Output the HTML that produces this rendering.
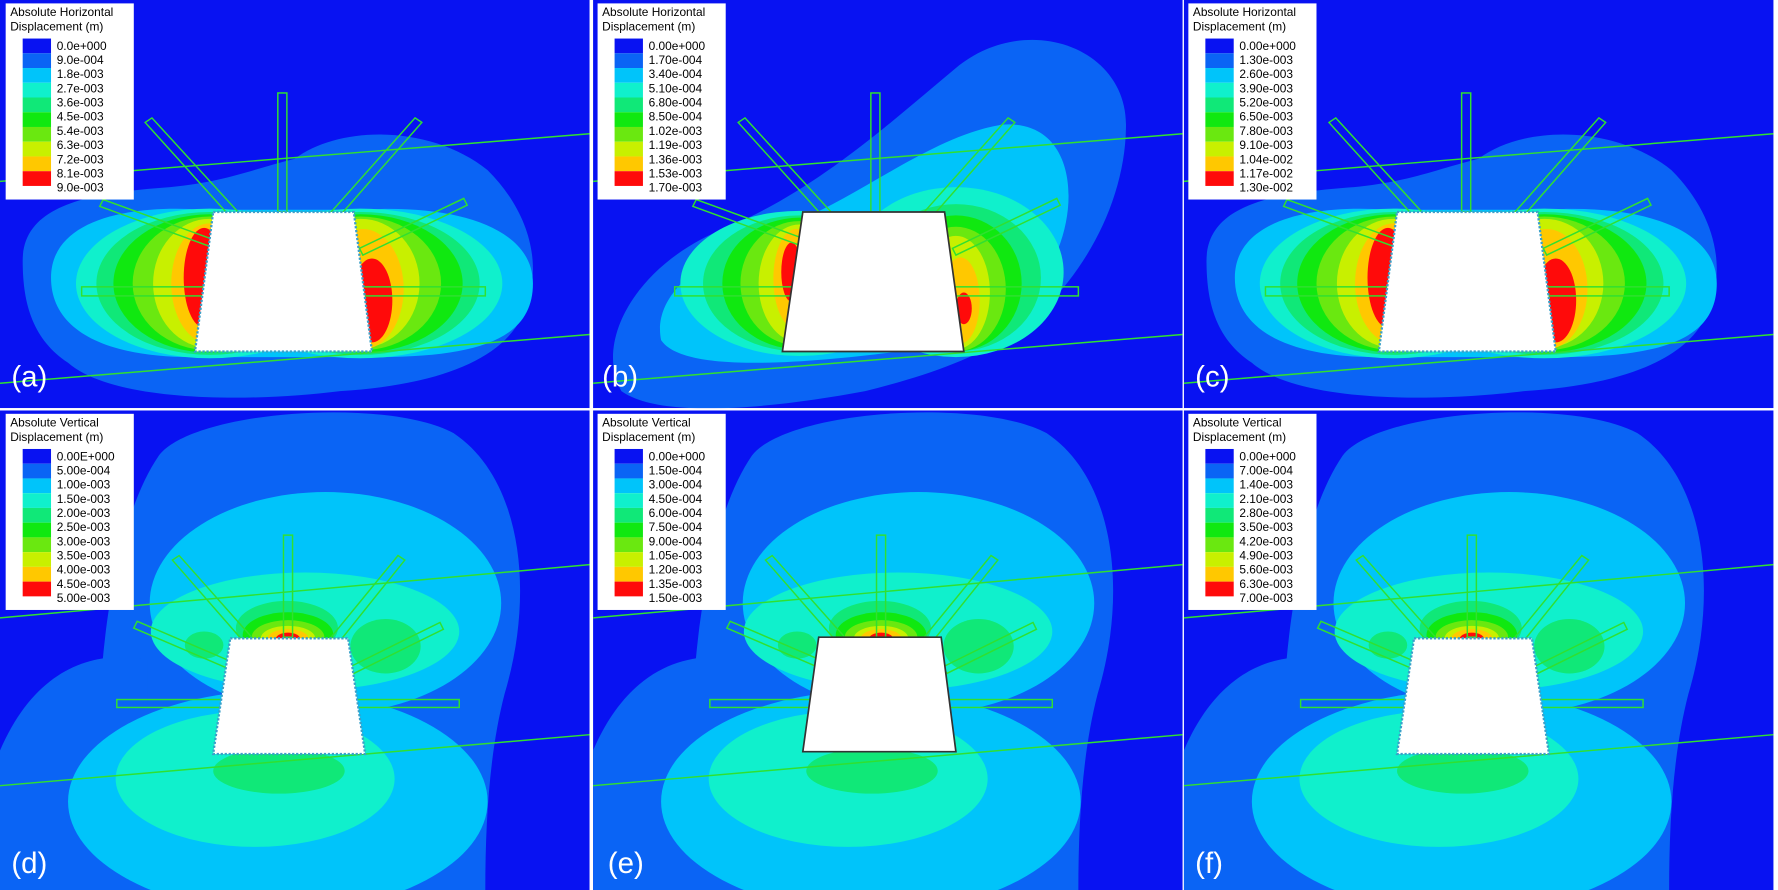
<!DOCTYPE html>
<html><head><meta charset="utf-8"><style>
html,body{margin:0;padding:0;background:#fff;overflow:hidden;width:1778px;height:890px;}
svg{display:block;}
text{font-family:"Liberation Sans",sans-serif;}
</style></head><body>
<svg width="1778" height="890" viewBox="0 0 1568 785" preserveAspectRatio="none" xmlns="http://www.w3.org/2000/svg">
<defs>
<clipPath id="ct"><rect x="0" y="0" width="520" height="360"/></clipPath>
<clipPath id="cb"><rect x="0" y="0" width="520" height="423"/></clipPath>
<g id="topc">
 <rect x="0" y="0" width="520" height="360" fill="#0812f2"/>
 <path d="M20,230 C20,180 80,170 150,165 C200,160 220,150 260,140 C300,110 380,110 430,150 C470,190 480,240 460,280 C440,320 380,340 300,345 C220,355 100,355 60,320 C30,300 20,270 20,230Z" fill="#0a64f5"/>
 <path d="M45,245 C45,195 110,180 180,185 L320,185 C400,180 470,200 470,250 C470,300 420,315 330,315 L170,315 C90,315 45,290 45,245Z" fill="#00c4fa"/>
 <ellipse cx="185" cy="250" rx="118" ry="66" fill="#10f0cc"/><ellipse cx="318" cy="250" rx="125" ry="66" fill="#10f0cc"/>
 <ellipse cx="185" cy="250" rx="100" ry="63" fill="#10e878"/><ellipse cx="318" cy="250" rx="105" ry="63" fill="#10e878"/>
 <ellipse cx="185" cy="250" rx="85" ry="61" fill="#10e810"/><ellipse cx="318" cy="250" rx="90" ry="61" fill="#10e810"/>
 <ellipse cx="185" cy="250" rx="68" ry="59" fill="#6ae810"/><ellipse cx="318" cy="250" rx="71" ry="59" fill="#6ae810"/>
 <ellipse cx="185" cy="250" rx="50" ry="57" fill="#c8f000"/><ellipse cx="318" cy="250" rx="52" ry="57" fill="#c8f000"/>
 <ellipse cx="185" cy="250" rx="34" ry="53" fill="#ffc800"/><ellipse cx="320" cy="255" rx="36" ry="53" fill="#ffc800"/>
 <ellipse cx="180" cy="245" rx="18" ry="44" fill="#ff0a0a"/><ellipse cx="328" cy="265" rx="18" ry="37" fill="#ff0a0a"/>
</g>
<g id="topb">
 <rect x="0" y="0" width="520" height="360" fill="#0812f2"/>
 <path d="M25,345 C0,300 40,230 120,200 C200,165 260,110 320,60 C380,10 470,40 470,110 C470,170 440,230 400,270 C360,310 300,330 240,345 C160,360 60,370 25,345Z" fill="#0a64f5"/>
 <path d="M60,300 C50,250 120,215 180,195 C240,170 300,120 360,110 C420,105 430,170 410,220 C390,270 330,300 270,310 C190,320 80,330 60,300Z" fill="#00c4fa"/>
 <ellipse cx="182" cy="250" rx="105" ry="64" fill="#10f0cc"/><ellipse cx="320" cy="240" rx="95" ry="75" fill="#10f0cc"/>
 <ellipse cx="182" cy="250" rx="85" ry="60" fill="#10e878"/><ellipse cx="320" cy="245" rx="75" ry="65" fill="#10e878"/>
 <ellipse cx="182" cy="250" rx="68" ry="58" fill="#10e810"/><ellipse cx="320" cy="250" rx="58" ry="60" fill="#10e810"/>
 <ellipse cx="182" cy="250" rx="52" ry="55" fill="#6ae810"/><ellipse cx="320" cy="255" rx="44" ry="55" fill="#6ae810"/>
 <ellipse cx="182" cy="250" rx="36" ry="52" fill="#c8f000"/><ellipse cx="320" cy="258" rx="30" ry="50" fill="#c8f000"/>
 <ellipse cx="179" cy="246" rx="20" ry="44" fill="#ffc800"/><ellipse cx="324" cy="265" rx="17" ry="38" fill="#ffc800"/>
 <ellipse cx="175" cy="240" rx="9" ry="26" fill="#ff0a0a"/><ellipse cx="327" cy="272" rx="7" ry="14" fill="#ff0a0a"/>
</g>
<g id="botc">
 <rect x="0" y="0" width="520" height="423" fill="#0812f2"/>
 <path d="M100,423 C75,330 85,120 140,40 C170,0 340,-12 400,20 C460,60 472,160 445,250 C432,300 428,360 428,423Z" fill="#0a64f5"/>
 <path d="M0,300 C30,230 80,210 130,220 L130,423 L0,423Z" fill="#0a64f5"/>
 <ellipse cx="287" cy="170" rx="155" ry="98" fill="#00c4fa"/>
 <ellipse cx="245" cy="345" rx="185" ry="98" fill="#00c4fa"/>
 <ellipse cx="269" cy="195" rx="136" ry="52" fill="#10f0cc"/>
 <ellipse cx="225" cy="325" rx="123" ry="60" fill="#10f0cc"/>
 <ellipse cx="246" cy="318" rx="58" ry="20" fill="#10e878"/>
 <ellipse cx="253" cy="192" rx="45" ry="24" fill="#10e878"/>
 <ellipse cx="340" cy="208" rx="31" ry="24" fill="#10e878"/>
 <ellipse cx="180" cy="207" rx="17" ry="12" fill="#10e878"/>
 <ellipse cx="254" cy="198" rx="40" ry="20" fill="#10e810"/>
 <ellipse cx="254" cy="200" rx="32" ry="15" fill="#6ae810"/>
 <ellipse cx="254" cy="201" rx="24" ry="11" fill="#c8f000"/>
 <ellipse cx="254" cy="201" rx="18" ry="8" fill="#ffc800"/>
 <ellipse cx="254" cy="202" rx="11" ry="6" fill="#ff0a0a"/>
</g>
<g id="topbolts" fill="none" stroke="#30e030" stroke-width="1.3">
 <line x1="0" y1="160" x2="520" y2="118"/>
 <line x1="0" y1="338" x2="520" y2="295"/>
 <rect x="245" y="82" width="8" height="105"/>
 <polygon points="128,108 134,104 210,187 202,190"/>
 <polygon points="366,104 372,108 300,190 292,187"/>
 <polygon points="88,182 91,176 190,212 187,218"/>
 <polygon points="409,175 412,181 320,225 317,219"/>
 <rect x="72" y="253" width="356" height="8"/>
</g>
<g id="botbolts" fill="none" stroke="#30e030" stroke-width="1.3">
 <line x1="0" y1="183" x2="520" y2="136"/>
 <line x1="0" y1="331" x2="520" y2="286"/>
 <rect x="250" y="110" width="8" height="90"/>
 <polygon points="152,132 158,128 222,200 214,203"/>
 <polygon points="351,128 357,132 300,203 292,200"/>
 <polygon points="118,192 121,186 205,222 202,228"/>
 <polygon points="388,187 391,193 312,232 309,226"/>
 <rect x="103" y="255" width="302" height="7"/>
</g>
<g id="boxes">
 <rect x="20" y="34" width="25" height="13" fill="#0812f2"/><rect x="20" y="47" width="25" height="13" fill="#0a64f5"/><rect x="20" y="60" width="25" height="13" fill="#00c4fa"/><rect x="20" y="73" width="25" height="13" fill="#10f0cc"/><rect x="20" y="86" width="25" height="13" fill="#10e878"/><rect x="20" y="99" width="25" height="13" fill="#10e810"/><rect x="20" y="112" width="25" height="13" fill="#6ae810"/><rect x="20" y="125" width="25" height="13" fill="#c8f000"/><rect x="20" y="138" width="25" height="13" fill="#ffc800"/><rect x="20" y="151" width="25" height="13" fill="#ff0a0a"/>
</g>
</defs>

<g clip-path="url(#ct)">
 <use href="#topc"/><use href="#topbolts"/>
 <polygon points="188,187 312,187 328,310 172,310" fill="#fff" stroke="#3aa0c8" stroke-width="2" stroke-dasharray="2,1.5"/>
</g>
<g transform="translate(523,0)" clip-path="url(#ct)">
 <use href="#topb"/><use href="#topbolts"/>
 <polygon points="185,187 310,187 327,310 167,310" fill="#fff" stroke="#333" stroke-width="1.5"/>
</g>
<g transform="translate(1044,0)" clip-path="url(#ct)">
 <use href="#topc"/><use href="#topbolts"/>
 <polygon points="188,187 312,187 328,310 172,310" fill="#fff" stroke="#3aa0c8" stroke-width="2" stroke-dasharray="2,1.5"/>
</g>
<g transform="translate(0,362)" clip-path="url(#cb)">
 <use href="#botc"/><use href="#botbolts"/>
 <polygon points="203,201 307,201 322,303 188,303" fill="#fff" stroke="#3aa0c8" stroke-width="2" stroke-dasharray="2,1.5"/>
</g>
<g transform="translate(523,362)" clip-path="url(#cb)">
 <use href="#botc"/><use href="#botbolts"/>
 <polygon points="199,200 307,200 320,301 185,301" fill="#fff" stroke="#333" stroke-width="1.5"/>
</g>
<g transform="translate(1044,362)" clip-path="url(#cb)">
 <use href="#botc"/><use href="#botbolts"/>
 <polygon points="203,201 307,201 322,303 188,303" fill="#fff" stroke="#3aa0c8" stroke-width="2" stroke-dasharray="2,1.5"/>
</g>

<rect x="5" y="3" width="113" height="173" fill="#fff"/><use href="#boxes"/>
<rect x="527" y="3" width="113" height="173" fill="#fff"/><use href="#boxes" transform="translate(522,0)"/>
<rect x="1048" y="3" width="113" height="173" fill="#fff"/><use href="#boxes" transform="translate(1043,0)"/>
<rect x="5" y="365" width="113" height="173" fill="#fff"/><use href="#boxes" transform="translate(0,362)"/>
<rect x="527" y="365" width="113" height="173" fill="#fff"/><use href="#boxes" transform="translate(522,362)"/>
<rect x="1048" y="365" width="113" height="173" fill="#fff"/><use href="#boxes" transform="translate(1043,362)"/>

<g font-size="10.5" fill="#000">
 <text x="9" y="14">Absolute Horizontal</text><text x="9" y="27">Displacement (m)</text>
 <text x="531" y="14">Absolute Horizontal</text><text x="531" y="27">Displacement (m)</text>
 <text x="1052" y="14">Absolute Horizontal</text><text x="1052" y="27">Displacement (m)</text>
 <text x="9" y="376">Absolute Vertical</text><text x="9" y="389">Displacement (m)</text>
 <text x="531" y="376">Absolute Vertical</text><text x="531" y="389">Displacement (m)</text>
 <text x="1052" y="376">Absolute Vertical</text><text x="1052" y="389">Displacement (m)</text>

 <text x="50" y="44"><tspan x="50">0.0e+000</tspan><tspan x="50" dy="12.5">9.0e-004</tspan><tspan x="50" dy="12.5">1.8e-003</tspan><tspan x="50" dy="12.5">2.7e-003</tspan><tspan x="50" dy="12.5">3.6e-003</tspan><tspan x="50" dy="12.5">4.5e-003</tspan><tspan x="50" dy="12.5">5.4e-003</tspan><tspan x="50" dy="12.5">6.3e-003</tspan><tspan x="50" dy="12.5">7.2e-003</tspan><tspan x="50" dy="12.5">8.1e-003</tspan><tspan x="50" dy="12.5">9.0e-003</tspan></text>
 <text x="572" y="44"><tspan x="572">0.00e+000</tspan><tspan x="572" dy="12.5">1.70e-004</tspan><tspan x="572" dy="12.5">3.40e-004</tspan><tspan x="572" dy="12.5">5.10e-004</tspan><tspan x="572" dy="12.5">6.80e-004</tspan><tspan x="572" dy="12.5">8.50e-004</tspan><tspan x="572" dy="12.5">1.02e-003</tspan><tspan x="572" dy="12.5">1.19e-003</tspan><tspan x="572" dy="12.5">1.36e-003</tspan><tspan x="572" dy="12.5">1.53e-003</tspan><tspan x="572" dy="12.5">1.70e-003</tspan></text>
 <text x="1093" y="44"><tspan x="1093">0.00e+000</tspan><tspan x="1093" dy="12.5">1.30e-003</tspan><tspan x="1093" dy="12.5">2.60e-003</tspan><tspan x="1093" dy="12.5">3.90e-003</tspan><tspan x="1093" dy="12.5">5.20e-003</tspan><tspan x="1093" dy="12.5">6.50e-003</tspan><tspan x="1093" dy="12.5">7.80e-003</tspan><tspan x="1093" dy="12.5">9.10e-003</tspan><tspan x="1093" dy="12.5">1.04e-002</tspan><tspan x="1093" dy="12.5">1.17e-002</tspan><tspan x="1093" dy="12.5">1.30e-002</tspan></text>
 <text x="50" y="406"><tspan x="50">0.00E+000</tspan><tspan x="50" dy="12.5">5.00e-004</tspan><tspan x="50" dy="12.5">1.00e-003</tspan><tspan x="50" dy="12.5">1.50e-003</tspan><tspan x="50" dy="12.5">2.00e-003</tspan><tspan x="50" dy="12.5">2.50e-003</tspan><tspan x="50" dy="12.5">3.00e-003</tspan><tspan x="50" dy="12.5">3.50e-003</tspan><tspan x="50" dy="12.5">4.00e-003</tspan><tspan x="50" dy="12.5">4.50e-003</tspan><tspan x="50" dy="12.5">5.00e-003</tspan></text>
 <text x="572" y="406"><tspan x="572">0.00e+000</tspan><tspan x="572" dy="12.5">1.50e-004</tspan><tspan x="572" dy="12.5">3.00e-004</tspan><tspan x="572" dy="12.5">4.50e-004</tspan><tspan x="572" dy="12.5">6.00e-004</tspan><tspan x="572" dy="12.5">7.50e-004</tspan><tspan x="572" dy="12.5">9.00e-004</tspan><tspan x="572" dy="12.5">1.05e-003</tspan><tspan x="572" dy="12.5">1.20e-003</tspan><tspan x="572" dy="12.5">1.35e-003</tspan><tspan x="572" dy="12.5">1.50e-003</tspan></text>
 <text x="1093" y="406"><tspan x="1093">0.00e+000</tspan><tspan x="1093" dy="12.5">7.00e-004</tspan><tspan x="1093" dy="12.5">1.40e-003</tspan><tspan x="1093" dy="12.5">2.10e-003</tspan><tspan x="1093" dy="12.5">2.80e-003</tspan><tspan x="1093" dy="12.5">3.50e-003</tspan><tspan x="1093" dy="12.5">4.20e-003</tspan><tspan x="1093" dy="12.5">4.90e-003</tspan><tspan x="1093" dy="12.5">5.60e-003</tspan><tspan x="1093" dy="12.5">6.30e-003</tspan><tspan x="1093" dy="12.5">7.00e-003</tspan></text>
</g>

<g font-size="26" fill="#fff">
 <text x="10" y="341">(a)</text><text x="531" y="341">(b)</text><text x="1054" y="341">(c)</text>
 <text x="10" y="770">(d)</text><text x="536" y="770">(e)</text><text x="1054" y="770">(f)</text>
</g>
</svg>
</body></html>
